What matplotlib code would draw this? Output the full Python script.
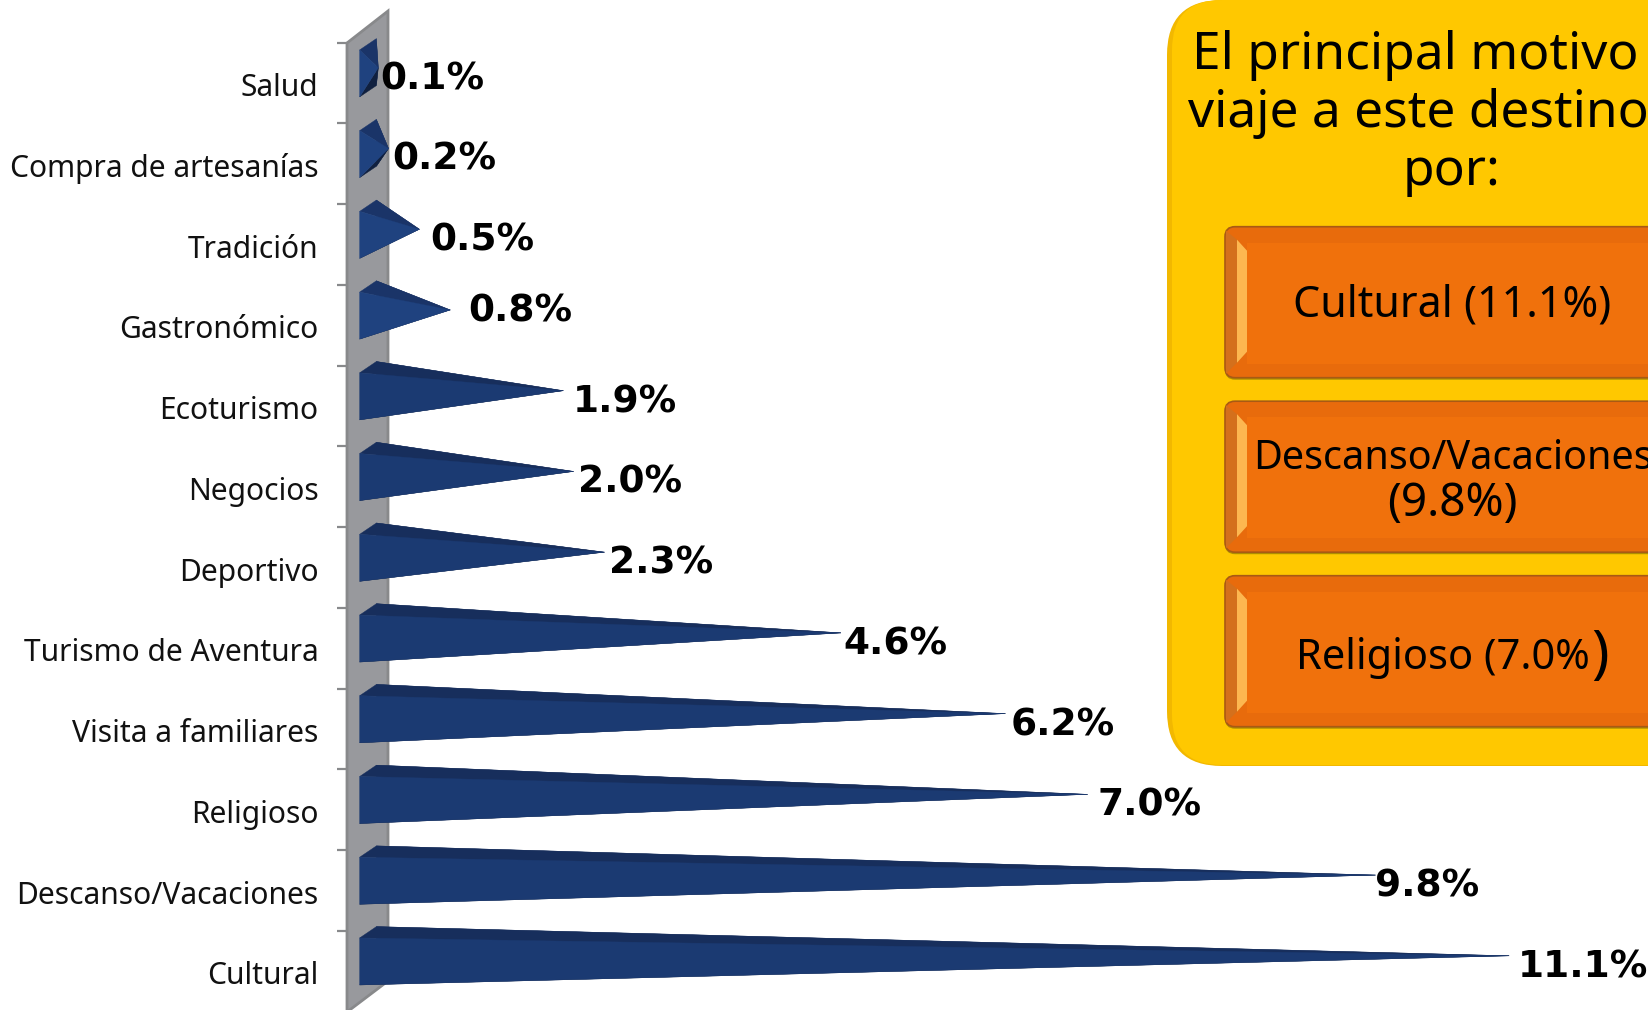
import matplotlib
matplotlib.use('Agg')
import matplotlib.pyplot as plt
from matplotlib.patches import FancyBboxPatch, Polygon

categorias = ['Cultural', 'Descanso/Vacaciones', 'Religioso', 'Visita a familiares',
              'Turismo de Aventura', 'Deportivo', 'Negocios', 'Ecoturismo',
              'Gastronómico', 'Tradición', 'Compra de artesanías', 'Salud']
valores = [11.1, 9.8, 7.0, 6.2, 4.6, 2.3, 2.0, 1.9, 0.8, 0.5, 0.2, 0.1]

titulo = 'El principal motivo de\nviaje a este destino es\npor:'

# ajustes manuales de las etiquetas (pixeles)
ajuste_x = [9, 0, 10, 5, 2, 5, 4, 9, 18, 11, 4, 2]
ajuste_y = [0, 0, 0, 0, 0, 0, 0, 0, -10, 0, 0, 0]

W, H = 1648, 1010
ESCALA_X = 102.8   # pixeles por punto porcentual
ESCALA_Y = 80.73   # pixeles por categoria
X0 = 368
Y0 = 955.8

plt.rcParams['font.family'] = ['Noto Sans', 'DejaVu Sans']

fig = plt.figure(figsize=(W / 100, H / 100), dpi=100, facecolor='white')

# capa de fondo en pixeles: pared del grafico y recuadro amarillo
fondo = fig.add_axes([0, 0, 1, 1], zorder=1)
fondo.set_xlim(0, W)
fondo.set_ylim(H, 0)
fondo.axis('off')

fondo.add_patch(Polygon([(347, 43), (388, 11), (388, 981), (347, 1012)],
                        facecolor='#98999d', edgecolor='#88898b', lw=2))
for k in range(13):
    y = 42.7 + k * ESCALA_Y
    fondo.plot([337, 347], [y, y], color='#88898b', lw=1.6, solid_capstyle='butt')

# recuadro amarillo, se sale por la derecha
fondo.add_patch(FancyBboxPatch((1167 + 55, 55), 700, 766 - 110,
                               boxstyle='round,pad=55,rounding_size=55',
                               facecolor='#f2b800', edgecolor='none'))
fondo.add_patch(FancyBboxPatch((1172 + 50, 50), 700, 765 - 100,
                               boxstyle='round,pad=50,rounding_size=50',
                               facecolor='#ffc800', edgecolor='none'))
fondo.text(1452, 185, titulo, fontsize=37, ha='center', va='baseline',
           multialignment='center', linespacing=1.18, color='black')


def boton(top, alto=151):
    left = 1225
    ancho = 600
    # sombra, cuerpo y cara central del boton
    fondo.add_patch(FancyBboxPatch((left + 10, top + 12), ancho - 20, alto - 20,
                                   boxstyle='round,pad=10,rounding_size=10',
                                   facecolor='#ad8f00', edgecolor='none'))
    fondo.add_patch(FancyBboxPatch((left + 10, top + 10), ancho - 20, alto - 20,
                                   boxstyle='round,pad=10,rounding_size=10',
                                   facecolor='#e86b0c', edgecolor='#a85a14', lw=1.2))
    fondo.add_patch(Polygon([(left + 1, top + 4), (left + 12, top + 13),
                             (left + 12, top + alto - 15), (left + 1, top + alto - 4)],
                            facecolor='#d4701c', edgecolor='none'))
    fondo.add_patch(Polygon([(left + 12, top + 13), (left + 22, top + 24),
                             (left + 22, top + alto - 26), (left + 12, top + alto - 15)],
                            facecolor='#fdb750', edgecolor='none'))
    fondo.add_patch(Polygon([(left + 22, top + 16), (left + ancho, top + 16),
                             (left + ancho, top + alto - 14), (left + 22, top + alto - 14)],
                            facecolor='#f0710c', edgecolor='none'))


for top in [226.7, 401.2, 575.7]:
    boton(top)

fondo.text(1452.5, 317, 'Cultural (11.1%)', fontsize=31, ha='center', va='baseline')
fondo.text(1452.5, 469, 'Descanso/Vacaciones', fontsize=28.5, ha='center', va='baseline')
fondo.text(1452.5, 516, '(9.8%)', fontsize=33, ha='center', va='baseline')
fondo.text(1590, 669, 'Religioso (7.0%', fontsize=30, ha='right', va='baseline')
fondo.text(1591, 672, ')', fontsize=42, ha='left', va='baseline')

# capa de datos: x en porcentaje, y en categorias
ax = fig.add_axes([0, 0, 1, 1], zorder=2)
ax.patch.set_alpha(0)
ax.set_xlim(-X0 / ESCALA_X, (W - X0) / ESCALA_X)
ax.set_ylim((Y0 - H) / ESCALA_Y, Y0 / ESCALA_Y)
ax.axis('off')

dx = 8.35 / ESCALA_X
dy = 5.65 / ESCALA_Y
h = 23.5 / ESCALA_Y

for i, (cat, v) in enumerate(zip(categorias, valores)):
    del_sup = (-dx, i - dy + h)
    del_inf = (-dx, i - dy - h)
    tras_sup = (dx, i + dy + h)
    tras_inf = (dx, i + dy - h)
    punta = (v, i)

    # las barras cortas se ven algo mas claras
    frente = '#1f427f' if v < 1.5 else '#1b3a72'
    arriba = '#1a3468' if v < 1.5 else '#172e5c'
    caras = [([tras_sup, tras_inf, punta], '#172e5c'),
             ([del_inf, tras_inf, punta], '#10203f'),
             ([del_sup, tras_sup, punta], arriba),
             ([del_sup, del_inf, punta], frente)]
    for pts, color in caras:
        ax.add_patch(Polygon(pts, facecolor=color, edgecolor=color, lw=0.3))

    ax.text(-X0 / ESCALA_X + 318.5 / ESCALA_X, i - 20.5 / ESCALA_Y, cat,
            fontsize=21.6, ha='right', va='center', color='#111111')
    ax.text(v + ajuste_x[i] / ESCALA_X, i - (7.5 + ajuste_y[i]) / ESCALA_Y, f'{v:.1f}%',
            fontsize=27, fontweight='bold', family=['DejaVu Sans'],
            ha='left', va='center_baseline', color='black')

fig.savefig('out.png', dpi=100)
